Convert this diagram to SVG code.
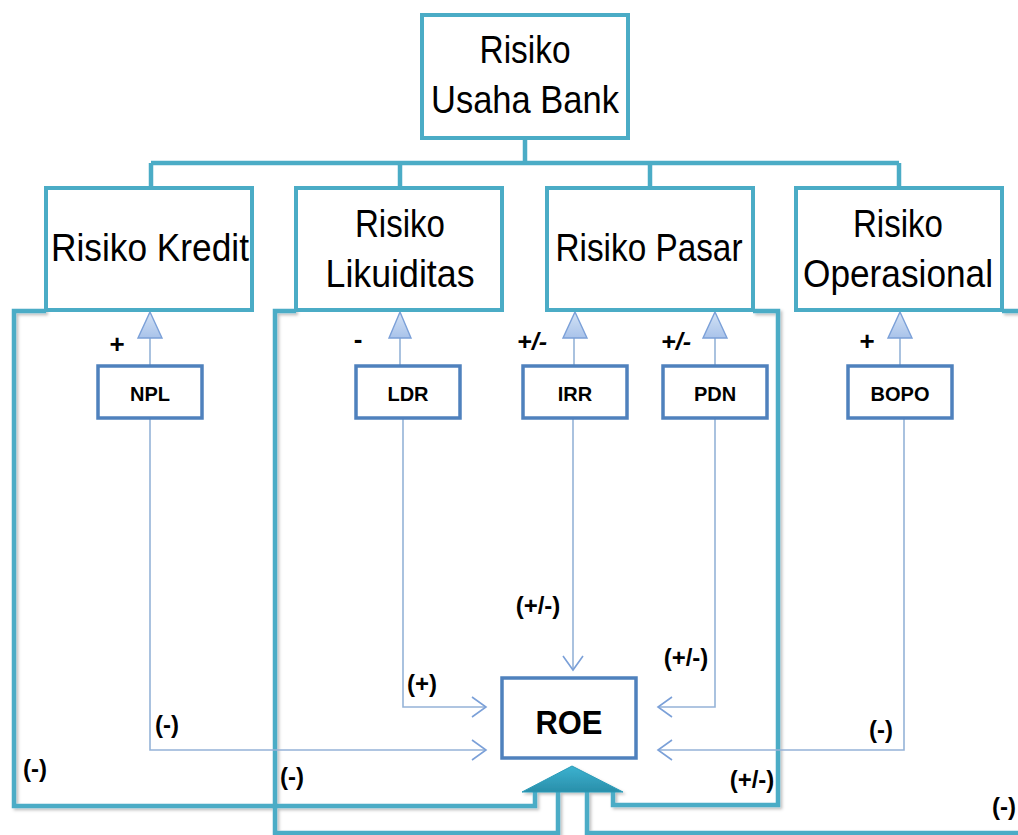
<svg xmlns="http://www.w3.org/2000/svg" width="1018" height="835" viewBox="0 0 1018 835">
<style>
.big{font-family:"Liberation Sans",Arial,sans-serif;font-size:39px;fill:#000;text-anchor:middle}
.sm{font-family:"Liberation Sans",Arial,sans-serif;font-size:20px;font-weight:bold;fill:#000;text-anchor:middle}
.lab{font-family:"Liberation Sans",Arial,sans-serif;font-size:24px;font-weight:bold;fill:#000;text-anchor:middle}
.tbox{fill:#fff;stroke:#4BACC6;stroke-width:4}
.nbox{fill:#fff;stroke:#4F81BD;stroke-width:3.5}
.frame{fill:none;stroke:#4BACC6;stroke-width:4.5;stroke-linejoin:miter}
.thin{fill:none;stroke:#95B3D7;stroke-width:1.6}
.tri{fill:url(#triG);stroke:#7BA0D8;stroke-width:1.4}
.chev{fill:none;stroke:#7BA0D8;stroke-width:1.6}
</style>
<defs>
<linearGradient id="triG" x1="0" y1="0" x2="0" y2="1"><stop offset="0" stop-color="#D3E2F5"/><stop offset="1" stop-color="#A9C3EA"/></linearGradient>
<linearGradient id="bigG" x1="0" y1="0" x2="0" y2="1"><stop offset="0" stop-color="#3BB2D0"/><stop offset="1" stop-color="#2A8FAA"/></linearGradient>
<filter id="sh" x="-10%" y="-10%" width="130%" height="130%"><feDropShadow dx="2" dy="2" stdDeviation="1.5" flood-color="#000" flood-opacity="0.25"/></filter>
</defs>

<g id="connectors">
  <path class="frame" d="M525 138 V163 M151 163 H899 M151 163 V188 M400 163 V188 M650 163 V188 M899 163 V188"/>
  <g filter="url(#sh)">
    <path class="frame" d="M46 311 H14 V806 H535 V792"/>
    <path class="frame" d="M296 311 H275 V833 H558 V792"/>
    <path class="frame" d="M753 311 H778 V805 H613 V792"/>
    <path class="frame" d="M1002 311 H1020 M1020 833 H587 V792"/>
    <polygon points="572,766 623,792 522,792" fill="url(#bigG)" stroke="#2A9BB8" stroke-width="1"/>
  </g>
  <path class="thin" d="M150 338 V366 M400 338 V366 M574 338 V366 M715 338 V366 M900 338 V366"/>
  <path class="thin" d="M150 418 V750 H486"/>
  <path class="thin" d="M403 419 V707 H486"/>
  <path class="thin" d="M573 419 V670"/>
  <path class="thin" d="M715 419 V707 H658"/>
  <path class="thin" d="M904 419 V750 H658"/>
  <polygon class="tri" points="150,312 162,338 138,338"/>
  <polygon class="tri" points="400,312 411,338 389,338"/>
  <polygon class="tri" points="575,312 587,338 563,338"/>
  <polygon class="tri" points="715,312 727,338 703,338"/>
  <polygon class="tri" points="900,312 912,338 888,338"/>
  <path class="chev" d="M472 740 L486 750 L472 760"/>
  <path class="chev" d="M472 697 L486 707 L472 717"/>
  <path class="chev" d="M563 656 L573 670 L583 656"/>
  <path class="chev" d="M672 697 L658 707 L672 717"/>
  <path class="chev" d="M672 740 L658 750 L672 760"/>
</g>

<g id="risiko-usaha-bank">
  <rect class="tbox" x="422" y="15" width="206" height="123"/>
  <text class="big" x="525" y="63" textLength="91" lengthAdjust="spacingAndGlyphs">Risiko</text>
  <text class="big" x="525" y="113" textLength="188" lengthAdjust="spacingAndGlyphs">Usaha Bank</text>
</g>
<g id="risiko-kredit">
  <rect class="tbox" x="46" y="188" width="206" height="122"/>
  <text class="big" x="150" y="261" textLength="198" lengthAdjust="spacingAndGlyphs">Risiko Kredit</text>
</g>
<g id="risiko-likuiditas">
  <rect class="tbox" x="296" y="188" width="206" height="122"/>
  <text class="big" x="400" y="237" textLength="90" lengthAdjust="spacingAndGlyphs">Risiko</text>
  <text class="big" x="400" y="287" textLength="149" lengthAdjust="spacingAndGlyphs">Likuiditas</text>
</g>
<g id="risiko-pasar">
  <rect class="tbox" x="547" y="188" width="206" height="122"/>
  <text class="big" x="649" y="261" textLength="187" lengthAdjust="spacingAndGlyphs">Risiko Pasar</text>
</g>
<g id="risiko-operasional">
  <rect class="tbox" x="796" y="188" width="206" height="122"/>
  <text class="big" x="898" y="237" textLength="90" lengthAdjust="spacingAndGlyphs">Risiko</text>
  <text class="big" x="898" y="287" textLength="190" lengthAdjust="spacingAndGlyphs">Operasional</text>
</g>

<g id="npl">
  <rect class="nbox" x="98" y="366" width="104" height="52"/>
  <text class="sm" x="150" y="401">NPL</text>
</g>
<g id="ldr">
  <rect class="nbox" x="356" y="366" width="104" height="52"/>
  <text class="sm" x="408" y="401">LDR</text>
</g>
<g id="irr">
  <rect class="nbox" x="523" y="366" width="104" height="52"/>
  <text class="sm" x="575" y="401">IRR</text>
</g>
<g id="pdn">
  <rect class="nbox" x="663" y="366" width="104" height="52"/>
  <text class="sm" x="715" y="401">PDN</text>
</g>
<g id="bopo">
  <rect class="nbox" x="848" y="366" width="104" height="52"/>
  <text class="sm" x="900" y="401">BOPO</text>
</g>
<g id="roe">
  <rect class="nbox" x="502" y="678" width="134" height="80"/>
  <text class="sm" x="569" y="734" style="font-size:34px" textLength="67" lengthAdjust="spacingAndGlyphs">ROE</text>
</g>

<g id="labels">
  <text class="lab" x="117" y="353" style="font-size:26px">+</text>
  <text class="lab" x="358" y="348" style="font-size:26px">-</text>
  <text class="lab" x="532" y="350" style="font-style:italic" textLength="30" lengthAdjust="spacingAndGlyphs">+/-</text>
  <text class="lab" x="676" y="350" style="font-style:italic" textLength="30" lengthAdjust="spacingAndGlyphs">+/-</text>
  <text class="lab" x="867" y="350" style="font-size:26px">+</text>
  <text class="lab" x="538" y="614">(+/-)</text>
  <text class="lab" x="422" y="692">(+)</text>
  <text class="lab" x="686" y="666">(+/-)</text>
  <text class="lab" x="167" y="733">(-)</text>
  <text class="lab" x="881" y="738">(-)</text>
  <text class="lab" x="35" y="777">(-)</text>
  <text class="lab" x="292" y="785">(-)</text>
  <text class="lab" x="752" y="788">(+/-)</text>
  <text class="lab" x="1004" y="815">(-)</text>
</g>
</svg>
